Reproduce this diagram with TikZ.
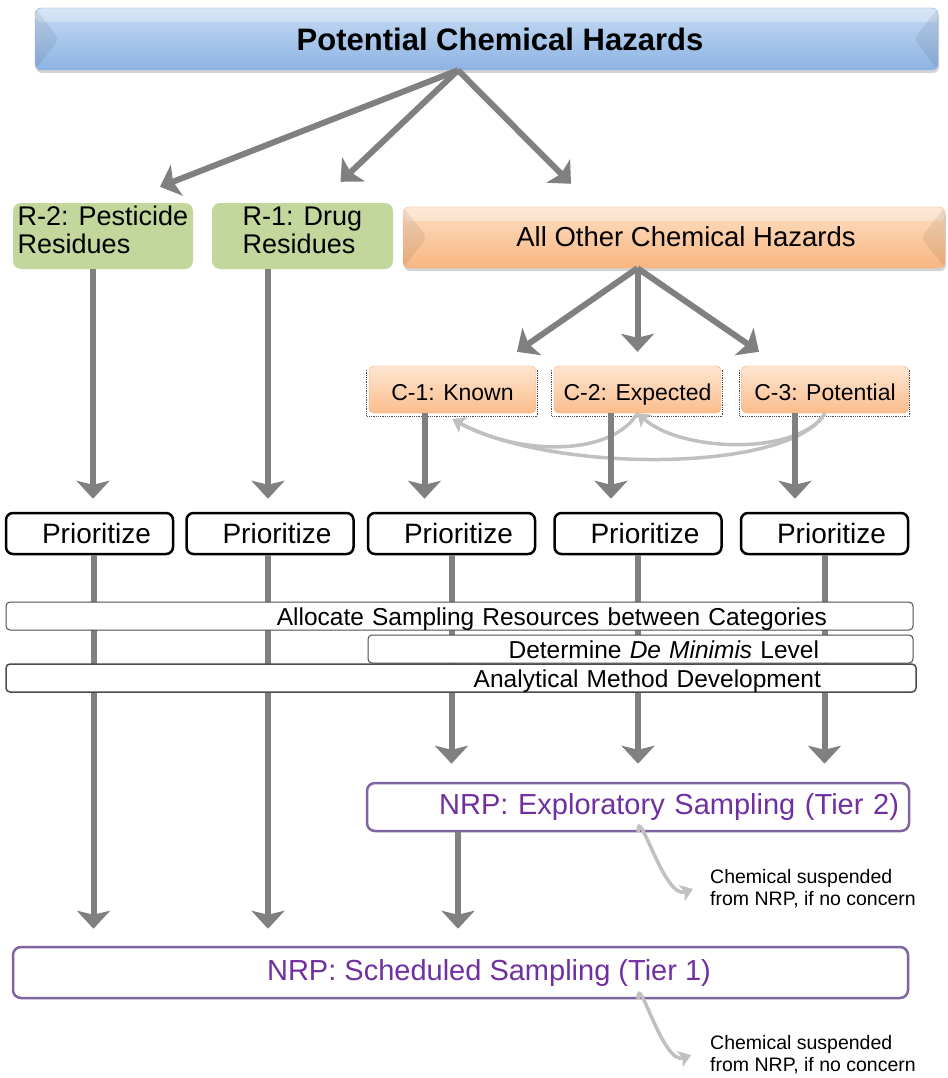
\documentclass[tikz,border=0pt]{standalone}
\usepackage{fontspec}
\setmainfont{Liberation Sans}
\usetikzlibrary{arrows.meta,shadows}

\definecolor{arrowgray}{HTML}{808080}
\definecolor{softgray}{HTML}{C0C0C0}
\definecolor{bluetop}{HTML}{C6DBF4}
\definecolor{bluebot}{HTML}{8DB3E2}
\definecolor{orangetop}{HTML}{FDDFC4}
\definecolor{orangebot}{HTML}{F9B680}
\definecolor{resgreen}{HTML}{C3D69B}
\definecolor{cattop}{HTML}{FEE6D2}
\definecolor{catbot}{HTML}{FBBD8C}
\definecolor{catline}{HTML}{F8A46A}
\definecolor{nrpline}{HTML}{8064A2}
\definecolor{nrptext}{HTML}{7030A0}

\tikzset{
  bigarr/.style={draw=arrowgray,line width=6pt,-{Stealth[length=18pt,width=33pt,inset=4pt]}},
  softarr/.style={draw=softgray,line width=3.5pt,-{Stealth[length=12pt,width=17pt,inset=3pt]}},
  bevel/.style={path picture={
    \fill[white,opacity=.3] (path picture bounding box.north west) rectangle ([yshift=-14pt]path picture bounding box.north east);
    \fill[black,opacity=.07] (path picture bounding box.north west) -- ([xshift=24pt]path picture bounding box.west) -- (path picture bounding box.south west) -- cycle;
    \fill[black,opacity=.07] (path picture bounding box.north east) -- ([xshift=-24pt]path picture bounding box.east) -- (path picture bounding box.south east) -- cycle;}},
  hazbox/.style={bevel,rounded corners=6pt,draw=bluebot,top color=bluetop,bottom color=bluebot,
    drop shadow={opacity=.35,shadow xshift=1pt,shadow yshift=-3pt},inner sep=0pt},
  otherbox/.style={bevel,rounded corners=6pt,draw=orangebot,top color=orangetop,bottom color=orangebot,
    drop shadow={opacity=.35,shadow xshift=1pt,shadow yshift=-3pt},inner sep=0pt,
    text height=20pt,text depth=2pt},
  resbox/.style={fill=resgreen,rounded corners=8pt,align=left,inner sep=0pt,
    font=\fontsize{27}{28}\selectfont},
  catbox/.style={rounded corners=5pt,draw=catline,top color=cattop,bottom color=catbot,
    minimum width=167pt,minimum height=47pt,inner sep=0pt,font=\fontsize{23}{26}\selectfont,
    text height=23pt,text depth=2pt},
  dotedge/.style={densely dotted,line width=.8pt,black!70},
  prio/.style={draw=black,line width=2.5pt,rounded corners=7pt,fill=white,
    minimum width=167pt,minimum height=41pt,inner sep=0pt,font=\fontsize{28}{30}\selectfont,
    text height=23pt,text depth=3pt},
  barbox/.style={draw=black!70,line width=1pt,rounded corners=4pt,fill=white,align=right,
    minimum height=28pt,inner ysep=1pt,font=\fontsize{24.5}{26}\selectfont},
  nrpbox/.style={draw=nrpline,line width=2.5pt,rounded corners=8pt,fill=white,text=nrptext,
    inner ysep=0pt,font=\fontsize{29}{31}\selectfont},
  note/.style={align=left,inner sep=0pt,anchor=west,font=\fontsize{19.5}{22}\selectfont}
}

\begin{document}
\begin{tikzpicture}[x=1pt,y=-1pt]
\useasboundingbox (0,0) rectangle (947,1078);
%top level
\node[hazbox,minimum width=903pt,minimum height=62pt,font=\bfseries\fontsize{31}{34}\selectfont] (top) at (486.5,39) {\hspace*{27pt}Potential Chemical Hazards};
%groups
\node[resbox,minimum width=180pt,minimum height=66pt] (r2) at (103,236) {R-2: Pesticide\\Residues\rule[-12pt]{0pt}{0pt}};
\node[resbox,minimum width=181pt,minimum height=66pt] (r1) at (302.5,236) {R-1: Drug\\Residues\rule[-12pt]{0pt}{0pt}};
\node[otherbox,minimum width=542pt,minimum height=61pt,font=\fontsize{27.5}{30}\selectfont] (other) at (674,237.5) {\hspace*{24pt}All Other Chemical Hazards};
%categories
\node[catbox] (c1) at (452.5,389.5) {C-1: Known};
\node[catbox] (c2) at (637.5,389.5) {C-2: Expected};
\node[catbox] (c3) at (825,389.5) {C-3: Potential};
\draw[dotedge] ([xshift=-2pt,yshift=-4pt]c1.north west) |- ([xshift=1pt,yshift=-3pt]c1.south east) -- ([xshift=1pt,yshift=-4pt]c1.north east);
\draw[dotedge] ([xshift=-2pt,yshift=-4pt]c2.north west) |- ([xshift=1pt,yshift=-3pt]c2.south east) -- ([xshift=1pt,yshift=-4pt]c2.north east);
\draw[dotedge] ([xshift=-2pt,yshift=-4pt]c3.north west) |- ([xshift=1pt,yshift=-3pt]c3.south east) -- ([xshift=1pt,yshift=-4pt]c3.north east);
%prioritize
\node[prio] (p1) at (89.5,533.5) {\hspace*{14pt}Prioritize};
\node[prio] (p2) at (270,533.5) {\hspace*{14pt}Prioritize};
\node[prio] (p3) at (451.5,533.5) {\hspace*{14pt}Prioritize};
\node[prio] (p4) at (638,533.5) {\hspace*{14pt}Prioritize};
\node[prio] (p5) at (824.5,533.5) {\hspace*{14pt}Prioritize};
%sampling
\node[nrpbox,text width=522pt,inner xsep=10pt,minimum height=48pt,align=right] (expl) at (638,807) {NRP: Exploratory Sampling (Tier 2)};
\node[nrpbox,minimum width=895pt,minimum height=51pt] (sched) at (460.5,972.5) {\hspace*{57pt}NRP: Scheduled Sampling (Tier 1)};
\node[note] (n1) at (710,889) {Chemical suspended\\from NRP, if no concern};
\node[note] (n2) at (710,1055) {Chemical suspended\\from NRP, if no concern};

% arrows from the top
\coordinate (hub) at ([xshift=-28.5pt]top.south);
\draw[bigarr] (hub) -- ([xshift=57pt,yshift=16pt]r2.north);
\draw[bigarr] (hub) -- ([xshift=38pt,yshift=21pt]r1.north);
\draw[bigarr] (hub) -- ([xshift=-103pt,yshift=23pt]other.north);
\coordinate (split) at (c2.north |- other.south);
\draw[bigarr] (split) -- ([xshift=64.5pt,yshift=14pt]c1.north);
\draw[bigarr] (split) -- ([yshift=14pt]c2.north);
\draw[bigarr] (split) -- ([xshift=-66pt,yshift=14pt]c3.north);
% moving between categories
\draw[softarr] (c3.south) .. controls +(-25,42) and +(45,40) .. (c2.south);
\draw[softarr] (c3.south) .. controls +(-35,60) and +(100,54) .. ([yshift=-6pt]c1.south);
\draw[softarr] (c2.south) .. controls +(-25,42) and +(70,38) .. ([yshift=-6pt]c1.south);
% into prioritize
\coordinate (l1) at ([xshift=-10pt]r2.south);
\coordinate (l2) at ([xshift=-34.5pt]r1.south);
\coordinate (l3) at ([xshift=-28pt]c1.south);
\coordinate (l4) at ([xshift=-26.5pt]c2.south);
\coordinate (l5) at ([xshift=-30pt]c3.south);
\draw[bigarr,shorten >=13pt] (l1) -- (l1 |- p1.north);
\draw[bigarr,shorten >=13pt] (l2) -- (l2 |- p2.north);
\draw[bigarr,shorten >=13pt] (l3) -- (l3 |- p3.north);
\draw[bigarr,shorten >=13pt] (l4) -- (l4 |- p4.north);
\draw[bigarr,shorten >=13pt] (l5) -- (l5 |- p5.north);
% down to sampling
\coordinate (m1) at ([xshift=4pt]p1.south);
\coordinate (m2) at ([xshift=-2pt]p2.south);
\coordinate (m6) at ([xshift=6.5pt]p3.south);
\draw[bigarr,shorten >=17pt] (m1) -- (m1 |- sched.north);
\draw[bigarr,shorten >=17pt] (m2) -- (m2 |- sched.north);
\draw[bigarr,shorten >=18pt] (p3.south) -- (p3.south |- expl.north);
\draw[bigarr,shorten >=18pt] (p4.south) -- (p4.south |- expl.north);
\draw[bigarr,shorten >=18pt] (p5.south) -- (p5.south |- expl.north);
\draw[bigarr,shorten >=17pt] (m6 |- expl.south) -- (m6 |- sched.north);
% suspended
\draw[softarr] (expl.south) to[out=90,in=200] ([xshift=-17pt]n1.west);
\draw[softarr] (expl.south |- sched.south) to[out=90,in=200] ([xshift=-19pt]n2.west);
%bars across the lanes
\node[barbox,text width=735pt,inner xsep=86pt,text height=20pt,text depth=2pt] (alloc) at (459.5,616) {Allocate Sampling Resources between Categories};
\node[barbox,text width=357pt,inner xsep=94pt,text height=20pt,text depth=2pt] (demin) at (640.5,649) {Determine \textit{De Minimis} Level};
\node[barbox,line width=1.5pt,text width=720pt,inner xsep=95pt,text height=20pt,text depth=2pt] (method) at (461,678) {Analytical Method Development};
\end{tikzpicture}
\end{document}
